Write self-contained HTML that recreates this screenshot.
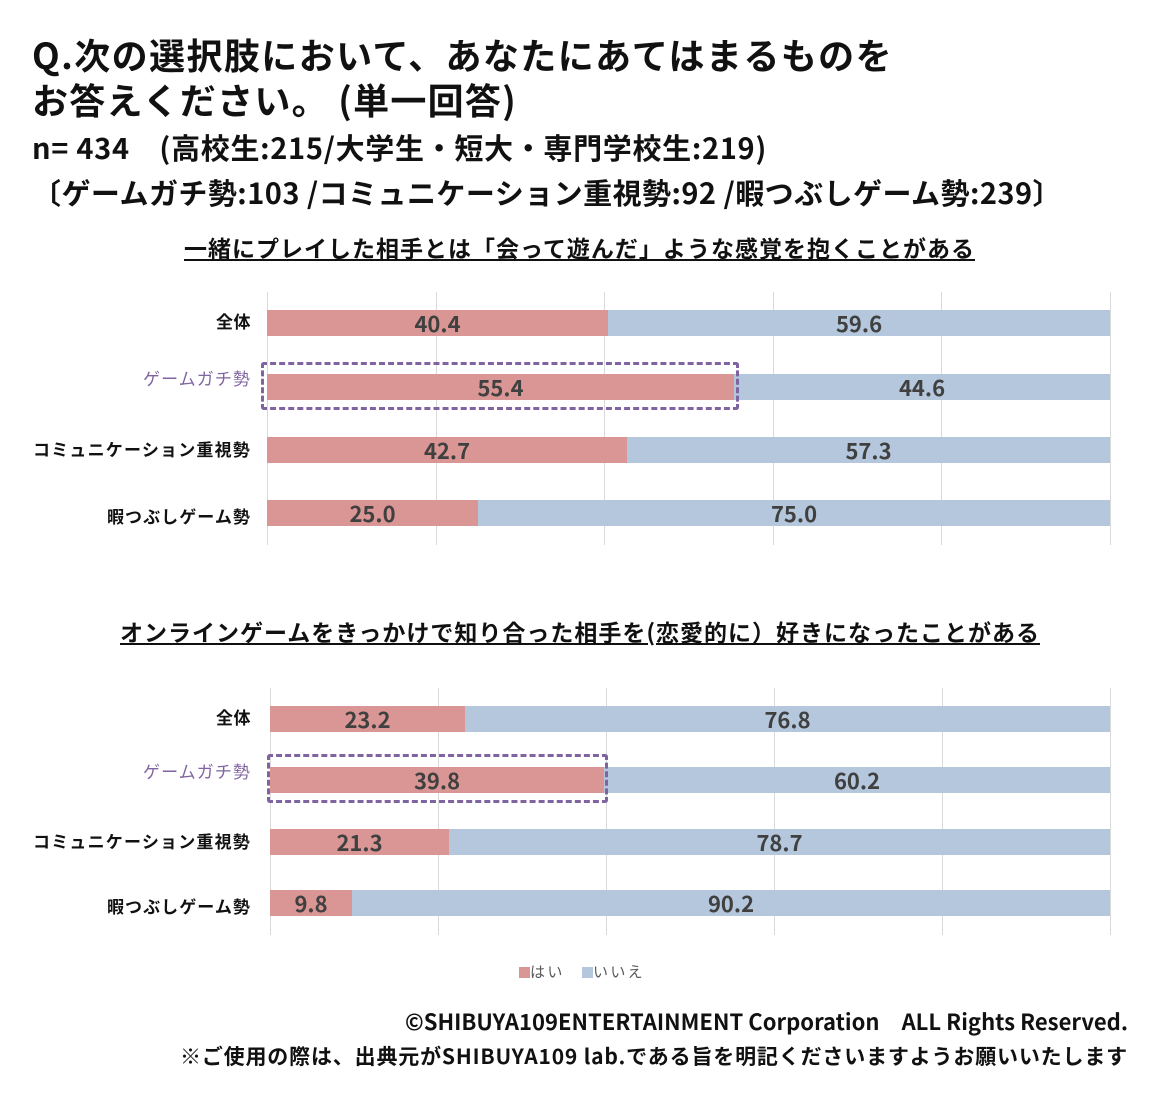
<!DOCTYPE html><html><head><meta charset="utf-8"><style>
body{margin:0;width:1160px;height:1110px;background:#fff;position:relative;font-family:"Noto Sans CJK JP","Liberation Sans",sans-serif;overflow:hidden}
.a{position:absolute;white-space:nowrap}
.t{font-weight:bold;color:#111}
.bar{position:absolute;height:26px}
.p{background:#d99694}.b{background:#b4c7dc}
.v{position:absolute;height:26px;line-height:26px;text-align:center;font-size:22px;font-weight:600;color:#404040;font-family:"Noto Sans CJK JP","Liberation Sans",sans-serif}
.g{position:absolute;width:1px;background:#d9d9d9}
.lab{position:absolute;font-size:17px;font-weight:bold;color:#111;white-space:nowrap;line-height:20px}
.box{position:absolute;border:3px dashed #8064a2;border-radius:3px;box-sizing:border-box}
</style></head><body>
<div id="t1" class="a t" style="left:32px;top:31px;font-size:36px;line-height:46px">Q.次の選択肢において、あなたにあてはまるものを</div>
<div id="t2" class="a t" style="left:32px;top:76px;font-size:36px;line-height:46px">お答えください。 (単一回答)</div>
<div id="t3" class="a t" style="left:32px;top:128px;font-size:29px;line-height:38px">n= 434　(高校生:215/大学生・短大・専門学校生:219)</div>
<div id="t4" class="a t" style="left:32px;top:173px;font-size:29px;line-height:38px">〔ゲームガチ勢:103 /コミュニケーション重視勢:92 /暇つぶしゲーム勢:239〕</div>
<div id="t5" class="a t" style="left:184px;top:232px;font-size:23px;line-height:30px;text-decoration:underline">一緒にプレイした相手とは「会って遊んだ」ような感覚を抱くことがある</div>
<div id="t6" class="a t" style="left:120px;top:616px;font-size:23px;line-height:30px;text-decoration:underline">オンラインゲームをきっかけで知り合った相手を(恋愛的に）好きになったことがある</div>
<div id="c1"></div><div id="c2"></div>
<div id="lg" class="a" style="left:519px;top:962px;font-size:15px;line-height:20px;color:#595959"><span style="display:inline-block;width:11px;height:11px;background:#d99694;vertical-align:-1px"></span>はい　<span style="display:inline-block;width:11px;height:11px;background:#b4c7dc;vertical-align:-1px"></span>いいえ</div>
<div id="f1" class="a t" style="left:405px;top:1006px;font-size:22px;line-height:30px">©SHIBUYA109ENTERTAINMENT Corporation　ALL Rights Reserved.</div>
<div id="f2" class="a t" style="left:180px;top:1042px;font-size:21px;line-height:28px">※ご使用の際は、出典元がSHIBUYA109 lab.である旨を明記くださいますようお願いいたします</div>
<script>
var labs=['全体','ゲームガチ勢','コミュニケーション重視勢','暇つぶしゲーム勢'];
var lx=[216,143,33,107],off=[1,-6,2,6];
function chart(id,x0,x1,gy0,gy1,ys,vals,box){
 var h='',w=x1-x0;
 for(var i=0;i<=5;i++)h+='<div class="g" style="left:'+Math.round(x0+w*i/5)+'px;top:'+gy0+'px;height:'+(gy1-gy0)+'px"></div>';
 for(var k=0;k<4;k++){var y=ys[k],v=vals[k],px=Math.round(x0+w*v/100);
  h+='<div class="bar p" style="left:'+x0+'px;top:'+y+'px;width:'+(px-x0)+'px"></div>';
  h+='<div class="bar b" style="left:'+px+'px;top:'+y+'px;width:'+(x1-px)+'px"></div>';
  h+='<div class="v" style="left:'+x0+'px;top:'+y+'px;width:'+(px-x0)+'px">'+v.toFixed(1)+'</div>';
  h+='<div class="v" style="left:'+px+'px;top:'+y+'px;width:'+(x1-px)+'px">'+(100-v).toFixed(1)+'</div>';
  h+='<div class="lab '+id+'l'+k+'" style="left:'+lx[k]+'px;top:'+(y+off[k])+'px;'+(k==1?'color:#8064a2;font-weight:normal':'')+'">'+labs[k]+'</div>';}
 h+='<div class="box" style="left:'+box[0]+'px;top:'+box[1]+'px;width:'+box[2]+'px;height:'+box[3]+'px"></div>';
 document.getElementById(id).innerHTML=h;}
chart('c1',267,1110,292,545,[310,374,437,500],[40.4,55.4,42.7,25.0],[261,362,478,48]);
chart('c2',270,1110,688,935,[706,767,829,890],[23.2,39.8,21.3,9.8],[267,754,341,49]);
function fit(el,tw){var n=el.textContent.length;var w=el.getBoundingClientRect().width;var ls=(tw-w)/n;el.style.letterSpacing=ls+'px';}
var T={t1:861,t2:485,t3:735,t4:1030,t5:791,t6:920,f1:723,f2:948,lg:126};
for(var k in T)fit(document.getElementById(k),T[k]);
var LW=[35,108,218,144];
for(var c=1;c<=2;c++)for(var k=0;k<4;k++)fit(document.querySelector('.c'+c+'l'+k),LW[k]);
</script>
</body></html>
